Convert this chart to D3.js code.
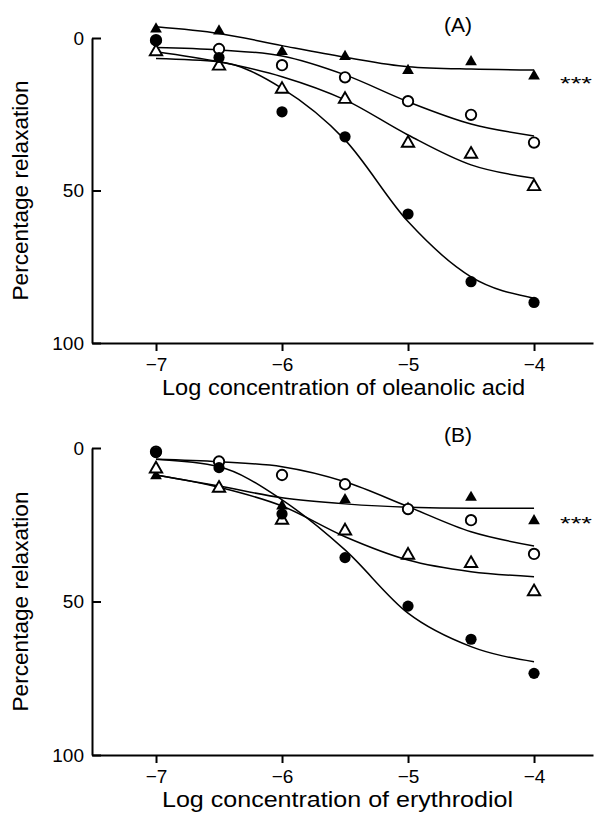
<!DOCTYPE html>
<html>
<head>
<meta charset="utf-8">
<script src="https://cdn.jsdelivr.net/npm/d3@7"></script>
<style>
  body { margin: 0; background: #fff; }
  text { font-family: "Liberation Sans", Arial, sans-serif; fill: #000; }
</style>
</head>
<body>
<svg width="594" height="816"></svg>
<script>
// log concentrations tested
const logConc = [-7, -6.5, -6, -5.5, -5, -4.5, -4];
const xTicks = [-7, -6, -5, -4];
const yTicks = [0, 50, 100];

// panel A (oleanolic acid) - measured points, % relaxation
const aFilledTri  = [-2.9, -2.3, 4.5, 6.1, 10.7, 7.8, 12.5];
const aOpenCircle = [0.7, 3.6, 8.9, 12.9, 20.7, 25.2, 34.3];
const aOpenTri    = [4.5, 9.2, 16.8, 20.1, 34.5, 38.1, 48.7];
const aFilledCirc = [0.9, 6.4, 24.2, 32.4, 57.7, 79.9, 86.7];
// panel A fitted curves read at each log step
const aFitFilledTri  = [-3.7, -1.5, 2.5, 6.3, 9.4, 10.2, 10.5];
const aFitOpenCircle = [3.1, 3.9, 5.9, 12.1, 20.9, 28.2, 32.1];
const aFitOpenTri    = [4.5, 7.8, 12.7, 20.3, 31.8, 41.6, 46.0];
const aFitFilledCirc = [6.7, 7.8, 16.5, 33.4, 60.2, 78.3, 85.3];

// panel B (erythrodiol)
const bFilledTri  = [9.1, 12.8, 18.9, 16.9, 19.6, 16.1, 23.7];
const bOpenCircle = [1.2, 4.4, 8.8, 11.8, 19.9, 23.5, 34.5];
const bOpenTri    = [6.8, 13.1, 23.5, 27.0, 34.9, 37.6, 46.8];
const bFilledCirc = [1.5, 6.4, 21.5, 35.7, 51.5, 62.3, 73.4];
const bFitFilledTri  = [8.8, 12.4, 16.2, 18.2, 19.3, 19.6, 19.6];
const bFitOpenCircle = [3.7, 4.5, 6.1, 11.0, 19.1, 27.3, 31.9];
const bFitOpenTri    = [8.8, 12.8, 18.9, 28.9, 36.5, 40.3, 41.9];
const bFitFilledCirc = [3.7, 6.1, 16.9, 33.2, 53.8, 64.7, 69.6];

const svg = d3.select('svg');

function drawPanel(top, bottom, label, title, titleLen, series, fits, starY) {
  const x = d3.scaleLinear().domain([-7.508, -3.532]).range([92, 593]);
  const y = d3.scaleLinear().domain([0, 100]).range([top, bottom]);
  const g = svg.append('g');

  const yAxis = g.append('g')
    .attr('transform', 'translate(92,0)')
    .call(d3.axisLeft(y).tickValues(yTicks).tickSizeInner(-9).tickSizeOuter(0).tickPadding(8).tickFormat(d3.format('d')));
  const xAxis = g.append('g')
    .attr('transform', `translate(0,${bottom})`)
    .call(d3.axisBottom(x).tickValues(xTicks).tickSizeInner(8).tickSizeOuter(0).tickPadding(7).tickFormat(d3.format('d')));
  [yAxis, xAxis].forEach(a => {
    a.selectAll('path,line').attr('stroke', '#000').attr('stroke-width', 2);
    a.selectAll('text').style('font-family', '"Liberation Sans", Arial, sans-serif').style('font-size', '19px');
  });

  // y axis title
  g.append('text')
    .attr('transform', `translate(28,${(top + bottom) / 2}) rotate(-90)`)
    .attr('text-anchor', 'middle')
    .attr('textLength', 220).attr('lengthAdjust', 'spacingAndGlyphs')
    .style('font-size', '22px')
    .text('Percentage relaxation');

  g.append('text')
    .attr('x', 162).attr('y', bottom + 52)
    .attr('textLength', titleLen).attr('lengthAdjust', 'spacingAndGlyphs')
    .style('font-size', '22px')
    .text(title);

  g.append('text')
    .attr('x', 444).attr('y', top - 6)
    .style('font-size', '21px')
    .text(label);

  g.append('text')
    .attr('x', 560).attr('y', starY)
    .attr('textLength', 32).attr('lengthAdjust', 'spacingAndGlyphs')
    .style('font-size', '19px')
    .text('***');

  const line = d3.line()
    .x((d, i) => x(logConc[i]))
    .y(d => y(d))
    .curve(d3.curveMonotoneX);

  fits.forEach(f => {
    g.append('path')
      .attr('d', line(f))
      .attr('fill', 'none')
      .attr('stroke', '#000')
      .attr('stroke-width', 1.5);
  });

  const tri = d3.symbol().type(d3.symbolTriangle);
  series.forEach(s => {
    const pts = g.selectAll(null).data(s.values).enter();
    if (s.shape === 'circle') {
      pts.append('circle')
        .attr('cx', (d, i) => x(logConc[i]))
        .attr('cy', d => y(d))
        .attr('r', s.filled ? 5.6 : 5.2)
        .attr('fill', s.filled ? '#000' : '#fff')
        .attr('stroke', '#000')
        .attr('stroke-width', s.filled ? 0 : 1.9);
    } else {
      pts.append('path')
        .attr('transform', (d, i) => `translate(${x(logConc[i])},${y(d)})`)
        .attr('d', tri.size(s.filled ? 60 : 66)())
        .attr('fill', s.filled ? '#000' : '#fff')
        .attr('stroke', '#000')
        .attr('stroke-width', s.filled ? 0 : 1.9);
    }
  });
}

drawPanel(38, 343, '(A)', 'Log  concentration of oleanolic acid', 363,
  [
    {values: aFilledTri, shape: 'tri', filled: true},
    {values: aOpenTri, shape: 'tri', filled: false},
    {values: aOpenCircle, shape: 'circle', filled: false},
    {values: aFilledCirc, shape: 'circle', filled: true}
  ],
  [aFitFilledTri, aFitOpenCircle, aFitOpenTri, aFitFilledCirc], 90);

drawPanel(448, 755, '(B)', 'Log  concentration of erythrodiol', 351,
  [
    {values: bFilledTri, shape: 'tri', filled: true},
    {values: bOpenTri, shape: 'tri', filled: false},
    {values: bOpenCircle, shape: 'circle', filled: false},
    {values: bFilledCirc, shape: 'circle', filled: true}
  ],
  [bFitFilledTri, bFitOpenCircle, bFitOpenTri, bFitFilledCirc], 530);
</script>
</body>
</html>
